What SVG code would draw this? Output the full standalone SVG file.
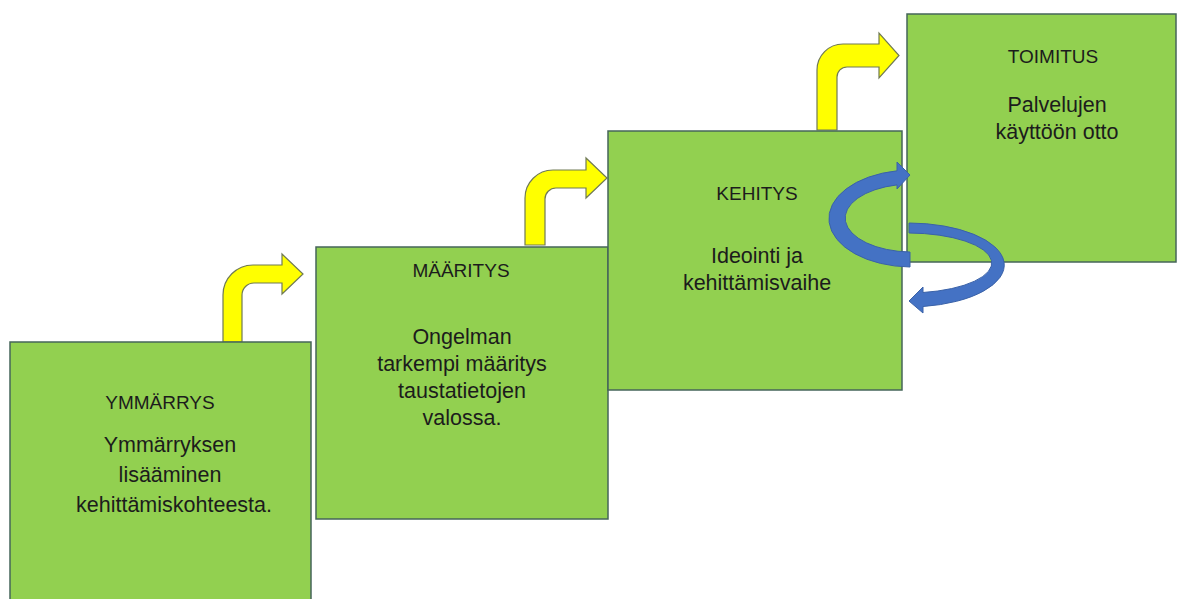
<svg xmlns="http://www.w3.org/2000/svg" width="1182" height="599" viewBox="0 0 1182 599">
<style>
.box{fill:#92D050;stroke:#46655a;stroke-width:1.5}
.yarrow{fill:#FFFF00;stroke:#707a55;stroke-width:1.2}
.barrow{fill:#4472C4;stroke:#3a62a8;stroke-width:1}
.t{font-family:"Liberation Sans",Arial,sans-serif;fill:#1c1c1c;text-anchor:middle}
.h{font-size:19px}
.b{font-size:21.5px}
</style>
<rect width="1182" height="599" fill="#ffffff"/>
<g id="connectors-yellow">
<path class="yarrow" d="M223 342 V295 A30 30 0 0 1 253 265 H282 V254 L303 274 L282 294 V283 H254 A12 12 0 0 0 242 295 V342 Z"/>
<path class="yarrow" d="M525 245 V198 A28 28 0 0 1 553 170 H586 V158 L607 178 L586 198 V188 H556 A11 11 0 0 0 545 199 V245 Z"/>
<path class="yarrow" d="M817 130 V70 A26 26 0 0 1 843 44 H879 V33 L899 55.5 L879 78 V67 H847 A10 10 0 0 0 837 77 V130 Z"/>
</g>
<g id="node-ymmarrys">
<rect class="box" x="10" y="342" width="301" height="270"/>
<text class="t h" x="160" y="409">YMMÄRRYS</text>
<text class="t b" x="170" y="452">Ymmärryksen</text>
<text class="t b" x="170" y="482">lisääminen</text>
<text class="t b" x="174" y="512">kehittämiskohteesta.</text>
</g>
<g id="node-maaritys">
<rect class="box" x="316" y="247" width="292" height="272"/>
<text class="t h" x="461" y="277">MÄÄRITYS</text>
<text class="t b" x="462" y="344">Ongelman</text>
<text class="t b" x="462" y="371">tarkempi määritys</text>
<text class="t b" x="462" y="398">taustatietojen</text>
<text class="t b" x="462" y="425">valossa.</text>
</g>
<g id="node-kehitys">
<rect class="box" x="608" y="131" width="294" height="259"/>
<text class="t h" x="757" y="200">KEHITYS</text>
<text class="t b" x="757" y="263">Ideointi ja</text>
<text class="t b" x="757" y="290">kehittämisvaihe</text>
</g>
<g id="node-toimitus">
<rect class="box" x="907" y="14" width="269" height="248"/>
<text class="t h" x="1053" y="63">TOIMITUS</text>
<text class="t b" x="1057" y="112">Palvelujen</text>
<text class="t b" x="1057" y="139">käyttöön otto</text>
</g>
<g id="connectors-blue">
<path class="barrow" d="M910 252 A67 34 0 0 1 897 184.9 L897 189 L910 175 L897 162 L897 170.8 A83 48.5 0 0 0 910 267 Z"/>
<path class="barrow" d="M909 223 A96 42 0 0 1 923 306.5 L923 313 L909 301 L923 287 L923 292.5 A84 30 0 0 0 909 233 Z"/>
</g>
</svg>
